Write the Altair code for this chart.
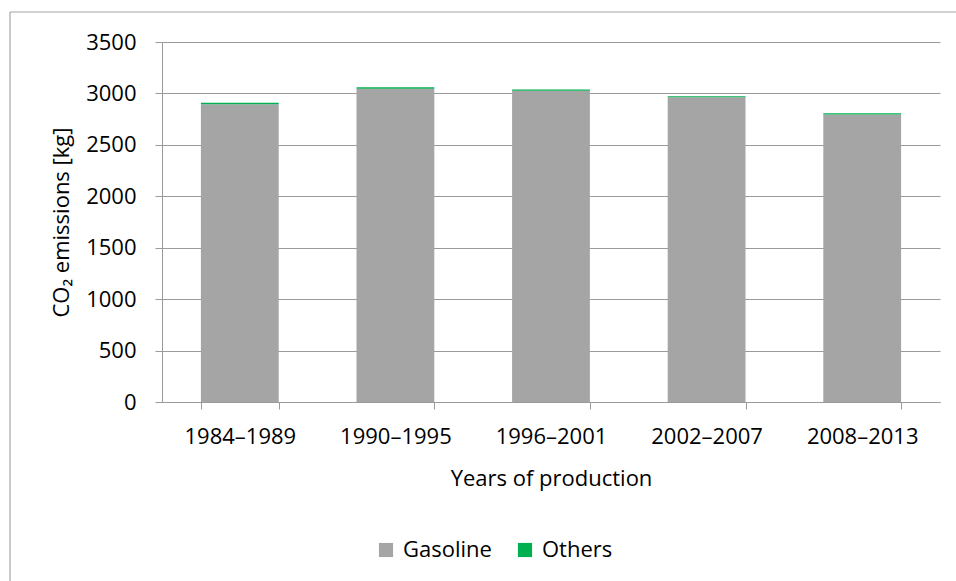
import altair as alt
import pandas as pd

periods = ["1984–1989", "1990–1995", "1996–2001", "2002–2007", "2008–2013"]
gasoline = [2895, 3045, 3025, 2962, 2795]
others = [14, 14, 12, 11, 12]
fuels = ["Gasoline", "Others"]
colors = ["#A5A5A5", "#00B050"]

rows = []
for p, g, o in zip(periods, gasoline, others):
    rows.append({"period": p, "fuel": "Gasoline", "value": g, "ord": 0})
    rows.append({"period": p, "fuel": "Others", "value": o, "ord": 1})
df = pd.DataFrame(rows)

FONT = "Open Sans"
AX = "#9a9a9a"
common = dict(labelFont=FONT, titleFont=FONT, labelFontSize=22, titleFontSize=22,
              titleFontWeight="normal", labelColor="#000", titleColor="#000",
              domainColor=AX, tickColor=AX, tickSize=7)

bars = alt.Chart(df).mark_bar().encode(
    x=alt.X("period:N", sort=periods,
            scale=alt.Scale(paddingInner=0.5, paddingOuter=0.25),
            axis=alt.Axis(title="Years of production", labelAngle=0, tickBand="extent",
                          labelPadding=17, titlePadding=21, grid=False, **common)),
    y=alt.Y("value:Q", stack="zero",
            scale=alt.Scale(domain=[0, 3500], nice=False),
            axis=alt.Axis(title="CO₂ emissions [kg]", values=list(range(0, 3501, 500)),
                          format="d", labelPadding=19, titlePadding=12,
                          gridColor=AX, **common)),
    color=alt.Color("fuel:N", scale=alt.Scale(domain=fuels, range=colors),
                    legend=alt.Legend(title=None, orient="none", legendX=213, legendY=497,
                                      direction="horizontal", symbolType="square",
                                      symbolSize=200, symbolStrokeWidth=0,
                                      labelFontSize=22, labelFont=FONT, labelColor="#000",
                                      columnPadding=22, labelOffset=6)),
    order=alt.Order("ord:Q"),
)

frame = pd.DataFrame({"k": [0]})
left = alt.Chart(frame).mark_rule(color="#a6a6a6", strokeWidth=1.2).encode(
    x=alt.value(-152), y=alt.value(-30), y2=alt.value(600))
top = alt.Chart(frame).mark_rule(color="#a6a6a6", strokeWidth=1.2).encode(
    x=alt.value(-152), x2=alt.value(800), y=alt.value(-30))

chart = alt.layer(bars, left, top).properties(
    width=778, height=360,
    autosize=alt.AutoSizeParams(type="none"),
    padding={"left": 162, "top": 42, "right": 16, "bottom": 179},
    background="white",
).configure_view(stroke=None)

chart.save("out.html", embed_options={"renderer": "svg", "actions": False})
